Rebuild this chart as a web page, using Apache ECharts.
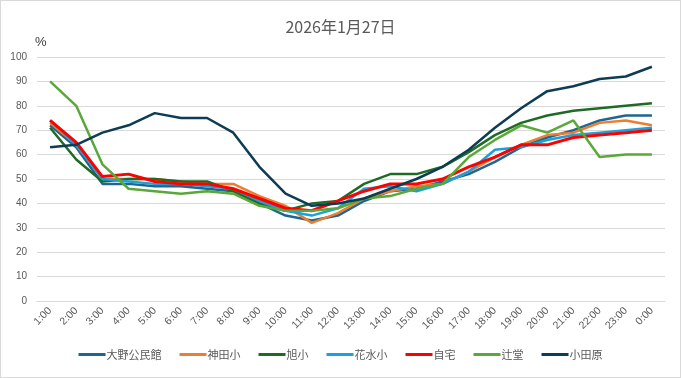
<!DOCTYPE html>
<html><head><meta charset="utf-8">
<script src="https://cdn.jsdelivr.net/npm/echarts@6/dist/echarts.min.js"></script>
<style>html,body{margin:0;padding:0;background:#fff}#c{width:679px;height:376px;border:1px solid #d9d9d9}</style>
</head><body><div id="c"></div>
<script>
var categories = ['1:00','2:00','3:00','4:00','5:00','6:00','7:00','8:00','9:00','10:00','11:00','12:00','13:00','14:00','15:00','16:00','17:00','18:00','19:00','20:00','21:00','22:00','23:00','0:00'];
var yTicks = [0,10,20,30,40,50,60,70,80,90,100];
var oono     = [72,63,48,48,47,47,46,45,40,35,33,35,41,45,46,49,52,57,63,67,70,74,76,76];
var kanda    = [73,64,50,50,50,49,48,48,43,39,32,36,42,45,47,48,53,59,64,68,69,73,74,72];
var asahi    = [71,58,49,50,50,49,49,45,40,37,40,41,48,52,52,55,61,68,73,76,78,79,80,81];
var hanamizu = [74,64,50,49,48,48,47,46,41,37,35,38,46,47,45,48,53,62,63,66,68,69,70,71];
var jitaku   = [74,65,51,52,49,48,48,46,42,38,37,41,45,48,48,50,55,59,64,64,67,68,69,70];
var tsujido  = [90,80,56,46,45,44,45,44,39,37,37,38,42,43,46,48,59,66,72,69,74,59,60,60];
var odawara  = [63,64,69,72,77,75,75,69,55,44,39,40,42,46,50,55,62,71,79,86,88,91,92,96];

var names = ['大野公民館','神田小','旭小','花水小','自宅','辻堂','小田原'];
var datas = [oono,kanda,asahi,hanamizu,jitaku,tsujido,odawara];
var colors = ['#1f6591','#ed7d31','#1e6b25','#1aa0dc','#ff0000','#5aa83a','#0d3c53'];
var widths = [2.5,2.5,2.5,2.5,3,2.5,2.5];

var chart = echarts.init(document.getElementById('c'));
chart.setOption({
  animation:false,
  title:{text:'2026年1月27日',left:'center',top:13,textStyle:{fontFamily:'Noto Sans CJK JP',fontSize:16,fontWeight:'normal',color:'#595959'}},
  legend:{bottom:12,left:'center',itemWidth:27,itemHeight:3,itemGap:18,icon:'rect',
    textStyle:{fontFamily:'Noto Sans CJK JP',fontSize:11,color:'#595959',padding:[0,0,0,-4]},data:names},
  grid:{left:36,right:15,top:56,bottom:76},
  xAxis:{type:'category',data:categories,boundaryGap:true,
    axisLine:{lineStyle:{color:'#d9d9d9'}},axisTick:{show:false},
    axisLabel:{rotate:45,fontSize:10.5,color:'#595959',fontFamily:'Liberation Sans',margin:8,interval:0}},
  yAxis:{type:'value',min:0,max:100,interval:10,name:'%',nameLocation:'end',nameGap:8,
    nameTextStyle:{color:'#404040',fontSize:13,align:'left',padding:[0,0,0,-2]},
    axisLine:{show:false},axisTick:{show:false},
    axisLabel:{fontSize:10,color:'#595959',fontFamily:'Liberation Sans',margin:10},
    splitLine:{lineStyle:{color:'#d9d9d9'}}},
  series:names.map(function(n,i){return {name:n,type:'line',data:datas[i],symbol:'none',
    lineStyle:{width:widths[i],color:colors[i]},itemStyle:{color:colors[i]}};})
});
</script></body></html>
